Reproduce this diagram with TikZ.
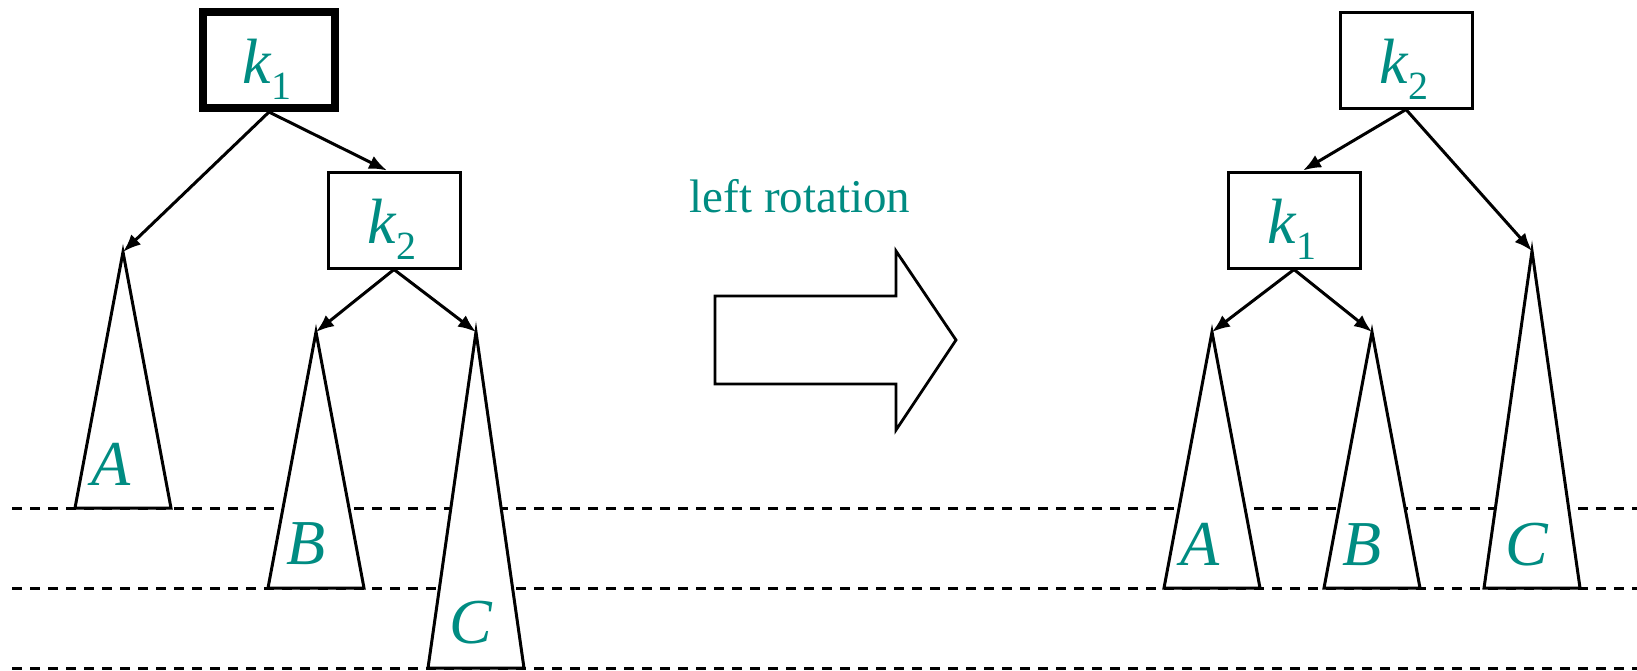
\documentclass[tikz,border=0pt]{standalone}
\usepackage{fontspec}
\setmainfont{Liberation Serif}
\usetikzlibrary{arrows.meta}
\definecolor{tealtxt}{RGB}{0,140,130}
\newcommand\kkey[1]{k\raisebox{-8pt}{\fontsize{20}{24}\selectfont\upshape #1}}
\begin{document}
\begin{tikzpicture}[x=0.5pt,y=-0.5pt,
  keybox/.style={draw, line width=1.5pt, minimum width=66pt, minimum height=48pt, inner sep=0pt},
  rootbox/.style={keybox, line width=4pt},
  klab/.style={anchor=base, text=tealtxt, inner sep=0pt, font=\fontsize{32}{36}\selectfont\itshape},
  edge/.style={line width=1.5pt, -{Latex[length=9pt,width=7pt]}},
  tri/.style={draw, fill=white, line width=1.5pt, line join=miter},
  levelline/.style={dash pattern=on 5pt off 4pt, line width=1.5pt}
]
\useasboundingbox (0,0) rectangle (1637,670);

% level lines
\coordinate (d1a) at (12,508); \coordinate (d1b) at (1637,508);
\coordinate (d2a) at (12,588); \coordinate (d2b) at (1637,588);
\coordinate (d3a) at (12,668); \coordinate (d3b) at (1637,668);
\draw[levelline] (d1a) -- (d1b);
\draw[levelline] (d2a) -- (d2b);
\draw[levelline] (d3a) -- (d3b);

% ---------- left tree ----------
\node[rootbox] (k1) at (269,60) {};
\node[keybox] (k2) at (394,220) {};
\node[klab] (k1lab) at (267,83) {\kkey{1}};
\node[klab] (k2lab) at (392,243) {\kkey{2}};

\coordinate (tA) at (123,252);
\coordinate (tB) at (316,332);
\coordinate (tC) at (476,332);
\draw[tri] (tA) -- (171,508) -- (75,508) -- cycle;
\draw[tri] (tB) -- (364,588) -- (268,588) -- cycle;
\draw[tri] (tC) -- (524,668) -- (428,668) -- cycle;
\node[klab] (lA) at (111,485) {A};
\node[klab] (lB) at (306,564) {B};
\node[klab] (lC) at (471,643) {C};

\draw[edge] (k1.south) -- (tA);
\draw[edge] (k1.south) -- ([xshift=-3.5pt]k2.north);
\draw[edge] (k2.south) -- (tB);
\draw[edge] (k2.south) -- (tC);

% ---------- rotation arrow ----------
\node[anchor=base, text=tealtxt, inner sep=0pt, font=\fontsize{23.5}{28}\selectfont] (rot) at (800,212) {left rotation};
\draw[line width=1.4pt, line join=miter] (715,296) -- (896,296) -- (896,251) -- (956,340) -- (896,430) -- (896,384) -- (715,384) -- cycle;

% ---------- right tree ----------
\node[keybox] (rk2) at (1406,60) {};
\node[keybox] (rk1) at (1294,220) {};
\node[klab] (rk2lab) at (1404,83) {\kkey{2}};
\node[klab] (rk1lab) at (1292,243) {\kkey{1}};

\coordinate (rA) at (1212,332);
\coordinate (rB) at (1372,332);
\coordinate (rC) at (1532,251);
\draw[tri] (rA) -- (1260,588) -- (1164,588) -- cycle;
\draw[tri] (rB) -- (1420,588) -- (1324,588) -- cycle;
\draw[tri] (rC) -- (1580,588) -- (1484,588) -- cycle;
\node[klab] (rlA) at (1200,565) {A};
\node[klab] (rlB) at (1362,565) {B};
\node[klab] (rlC) at (1527,565) {C};

\draw[edge] (rk2.south) -- ([xshift=4.5pt]rk1.north);
\draw[edge] (rk2.south) -- (rC);
\draw[edge] (rk1.south) -- (rA);
\draw[edge] (rk1.south) -- (rB);
\end{tikzpicture}
\end{document}
